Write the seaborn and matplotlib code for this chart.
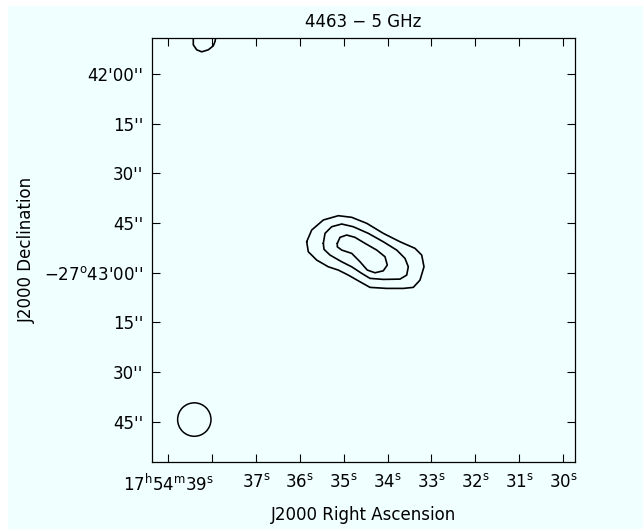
import numpy as np
import pandas as pd
import matplotlib
matplotlib.use("Agg")
import matplotlib.pyplot as plt
from matplotlib.patches import Ellipse, Rectangle
import seaborn as sns

# Coordinates: x = RA seconds past 17h54m, y = arcsec north of Dec -27d43'00"
DEC0 = -27.0 - 43.0 / 60.0
ARCSEC_PER_SEC = 15.0 * np.cos(np.deg2rad(DEC0))

# Contour levels of the 5 GHz map (outer -> inner)
outer_ra = [35.844, 35.730, 35.465, 35.123, 34.818, 34.475, 34.097, 33.716, 33.374,
            33.221, 33.169, 33.260, 33.413, 33.641, 34.019, 34.400, 34.628, 34.895,
            35.123, 35.351, 35.616, 35.807]
outer_dec = [9.37, 12.91, 15.94, 17.24, 16.75, 14.94, 11.91, 9.37, 7.38,
             5.35, 1.81, -2.21, -4.41, -4.72, -4.72, -4.41, -2.72, -0.70,
             0.82, 1.81, 3.84, 6.35]

middle_ra = [35.465, 35.426, 35.274, 35.046, 34.781, 34.439, 34.097, 33.791, 33.602,
             33.527, 33.563, 33.716, 34.097, 34.400, 34.589, 34.818, 35.046, 35.312,
             35.449]
middle_dec = [8.89, 11.91, 13.91, 14.73, 13.91, 11.91, 9.37, 6.86, 4.35,
              1.81, -0.70, -1.91, -2.00, -1.69, -0.18, 1.81, 3.33, 5.35,
              7.08]

inner_ra = [35.146, 35.084, 34.932, 34.742, 34.514, 34.247, 34.058, 34.006, 34.097,
            34.286, 34.462, 34.628, 34.818, 35.046, 35.146]
inner_dec = [8.89, 10.70, 11.40, 10.70, 8.89, 6.86, 4.84, 2.33, 0.60,
             0.00, 0.82, 3.33, 5.87, 6.86, 7.86]

# Open contour running off the top edge of the field
edge_ra = [38.440, 38.430, 38.430, 38.352, 38.238, 38.088, 37.974, 37.935, 37.890]
edge_dec = [73.0, 70.67, 68.85, 67.34, 66.74, 67.34, 68.55, 69.85, 73.0]

# Restoring beam (circular), centre and diameter
beam_ra, beam_dec = 38.407, -44.33
beam_diam_arcsec = 10.1

x_ticks = [39, 38, 37, 36, 35, 34, 33, 32, 31, 30]
x_labels = [r"17$^\mathrm{h}$54$^\mathrm{m}$39$^\mathrm{s}$", "",
            r"37$^\mathrm{s}$", r"36$^\mathrm{s}$", r"35$^\mathrm{s}$",
            r"34$^\mathrm{s}$", r"33$^\mathrm{s}$", r"32$^\mathrm{s}$",
            r"31$^\mathrm{s}$", r"30$^\mathrm{s}$"]
y_ticks = [60, 45, 30, 15, 0, -15, -30, -45]
y_labels = ["42'00''", "15''", "30''", "45''", r"$-$27$^\mathrm{o}$43'00''",
            "15''", "30''", "45''"]

x_lim = (39.365, 29.725)
y_lim = (-57.24, 70.82)


def closed(ra, dec):
    return list(ra) + [ra[0]], list(dec) + [dec[0]]


rows = []
for name, (ra, dec) in {
    "outer": closed(outer_ra, outer_dec),
    "middle": closed(middle_ra, middle_dec),
    "inner": closed(inner_ra, inner_dec),
    "edge": (edge_ra, edge_dec),
}.items():
    for i, (r, d) in enumerate(zip(ra, dec)):
        rows.append({"level": name, "order": i, "ra": r, "dec": d})
contours = pd.DataFrame(rows)

sns.set_theme(style="ticks")
plt.rcParams["font.family"] = ["DejaVu Sans"]
plt.rcParams["mathtext.default"] = "regular"
plt.rcParams["text.color"] = "black"

bg = "#F0FFFF"
fig = plt.figure(figsize=(6.43, 5.29), dpi=100, facecolor="white")
fig.patches.append(Rectangle((8 / 643, 0), 1 - 8 / 643, 1 - 6 / 529,
                             transform=fig.transFigure, facecolor=bg,
                             edgecolor="none", zorder=-10))

ax = fig.add_axes([152.3 / 643, 1 - 462.3 / 529, (575 - 152.3) / 643, (462.3 - 38.3) / 529])
ax.set_facecolor(bg)

sns.lineplot(data=contours, x="ra", y="dec", units="level", estimator=None,
             sort=False, color="black", linewidth=1.2, ax=ax, legend=False,
             solid_joinstyle="round", solid_capstyle="round")

ax.add_patch(Ellipse((beam_ra, beam_dec),
                     width=beam_diam_arcsec / ARCSEC_PER_SEC,
                     height=beam_diam_arcsec,
                     facecolor="none", edgecolor="black", linewidth=1.1))

ax.set_xlim(*x_lim)
ax.set_ylim(*y_lim)

ax.set_xticks(x_ticks)
ax.set_xticklabels(x_labels)
ax.set_yticks(y_ticks)
ax.set_yticklabels(y_labels)
ax.tick_params(axis="both", which="both", direction="in", length=5.5, width=0.8,
               top=True, right=True, colors="black", labelsize=12)
ax.tick_params(axis="x", pad=8)
ax.tick_params(axis="y", pad=6.5)
for sp in ax.spines.values():
    sp.set_visible(True)
    sp.set_linewidth(0.9)
    sp.set_color("black")

ax.set_xlabel("")
ax.set_ylabel("")
fig.text(363.5 / 643, 1 - 514.5 / 529, "J2000 Right Ascension", ha="center",
         va="center", fontsize=12, color="black")
fig.text(26.7 / 643, 1 - 250 / 529, "J2000 Declination", ha="center",
         va="center", rotation=90, fontsize=12, color="black")
fig.text(363.5 / 643, 1 - 22 / 529, "4463 \u2212 5 GHz", ha="center",
         va="center", fontsize=12, color="black")

fig.savefig("out.png", dpi=100, facecolor="white")
